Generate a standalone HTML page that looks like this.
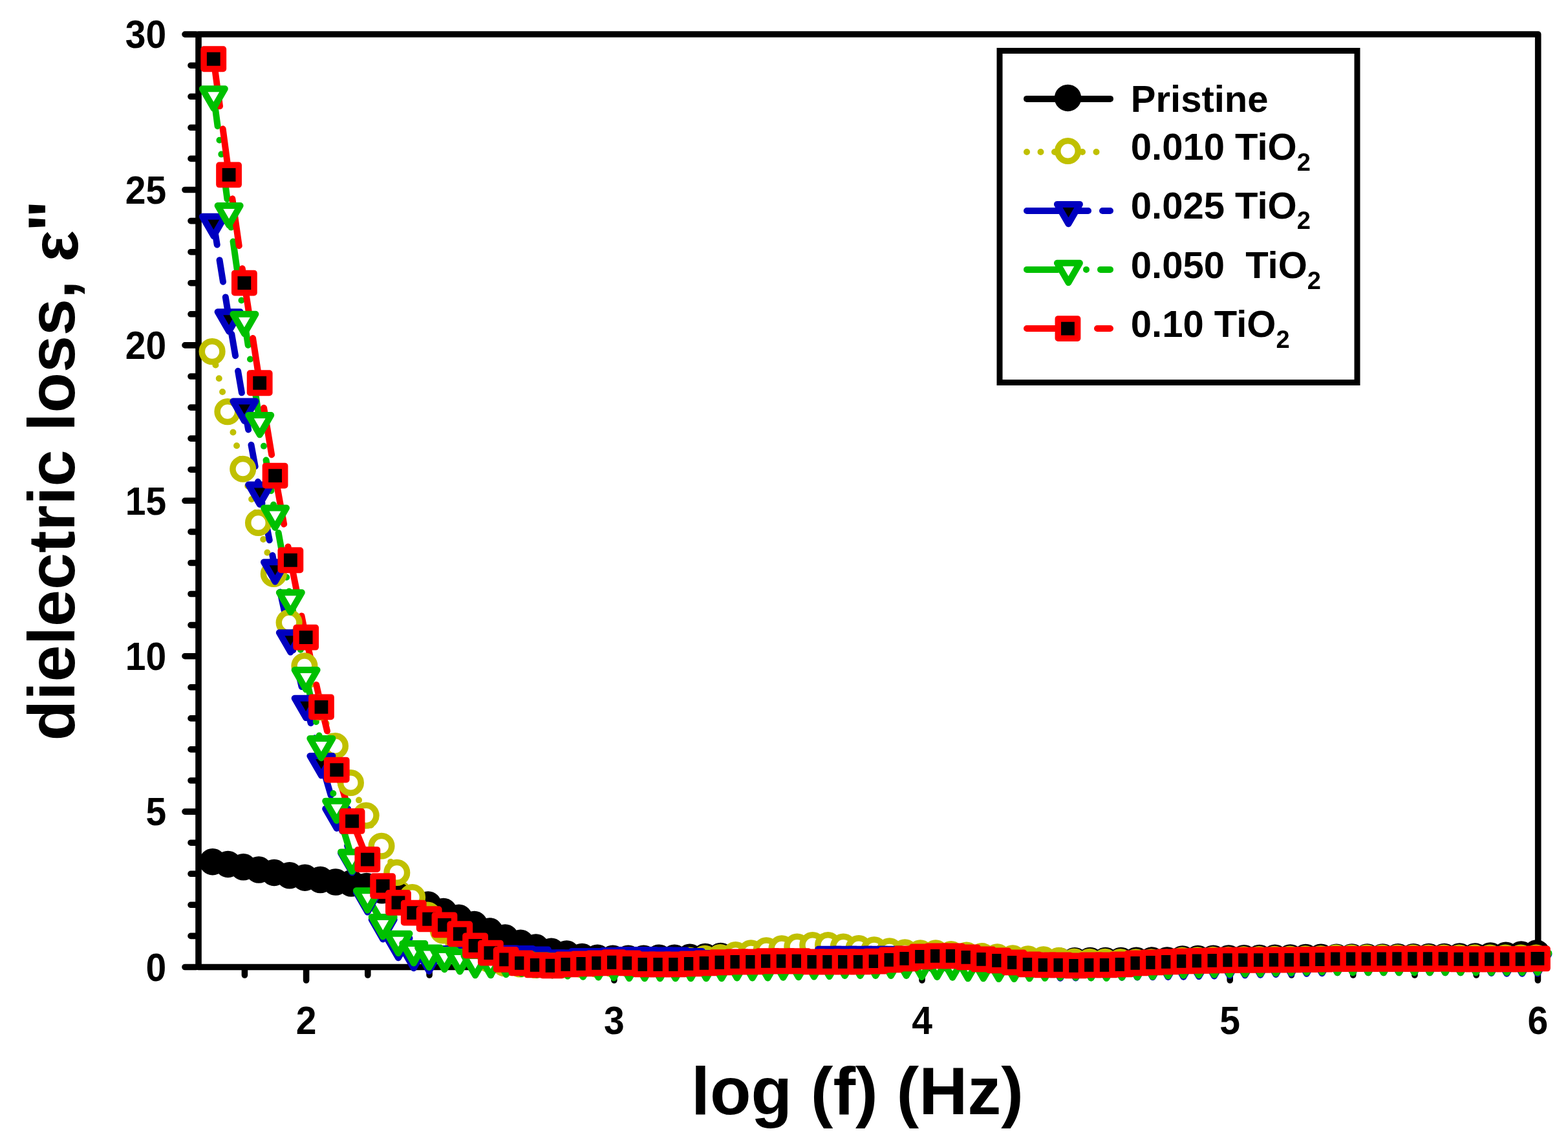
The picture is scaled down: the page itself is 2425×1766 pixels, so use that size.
<!DOCTYPE html>
<html><head><meta charset="utf-8"><title>dielectric loss</title>
<style>
html,body{margin:0;padding:0;background:#fff;}
body{width:2425px;height:1766px;overflow:hidden;}
svg{display:block;font-family:"Liberation Sans",Arial,sans-serif;}
</style></head><body>
<svg width="2425" height="1766" viewBox="0 0 2425 1766">
<rect width="2425" height="1766" fill="#fff"/>
<rect x="307" y="53" width="2071.7" height="1442.5" fill="none" stroke="#000" stroke-width="9.6" stroke-linejoin="round"/>
<path d="M303 1495.5H286M303 1447.4H295M303 1399.3H295M303 1351.3H295M303 1303.2H295M303 1255.1H286M303 1207H295M303 1158.9H295M303 1110.9H295M303 1062.8H295M303 1014.7H286M303 966.6H295M303 918.5H295M303 870.5H295M303 822.4H295M303 774.3H286M303 726.2H295M303 678.1H295M303 630.1H295M303 582H295M303 533.9H286M303 485.8H295M303 437.7H295M303 389.7H295M303 341.6H295M303 293.5H286M303 245.4H295M303 197.3H295M303 149.3H295M303 101.2H295M303 53.1H286M378.4 1499.5V1508M473.6 1499.5V1516M568.8 1499.5V1508M664.1 1499.5V1508M759.3 1499.5V1508M854.6 1499.5V1508M949.8 1499.5V1516M1045 1499.5V1508M1140.3 1499.5V1508M1235.5 1499.5V1508M1330.8 1499.5V1508M1426 1499.5V1516M1521.2 1499.5V1508M1616.5 1499.5V1508M1711.7 1499.5V1508M1807 1499.5V1508M1902.2 1499.5V1516M1997.4 1499.5V1508M2092.7 1499.5V1508M2187.9 1499.5V1508M2283.2 1499.5V1508M2378.4 1499.5V1516" stroke="#000" stroke-width="9.6" stroke-linecap="round" fill="none"/>
<g>
<polyline points="328.8,1332.7 352.6,1336.4 376.4,1340.8 400.2,1345.1 424,1349.4 447.8,1353.8 471.6,1357.2 495.4,1360.6 519.2,1364 543.1,1366 566.9,1370.5 590.7,1376.8 614.5,1385 638.3,1392 662.1,1399 685.9,1409.4 709.7,1419.2 733.5,1429.6 757.3,1440.1 781.2,1449.9 805,1458.2 828.8,1465.1 852.6,1471.2 876.4,1475.1 900.2,1479.4 924,1481.3 947.8,1482.3 971.6,1482.3 995.4,1482.3 1019.3,1481.3 1043.1,1481.3 1066.9,1480.2 1090.7,1479.4 1114.5,1478.6 1138.3,1480 1162.1,1480.3 1185.9,1480.6 1209.7,1480.9 1233.5,1481.2 1257.4,1481.5 1281.2,1481.8 1305,1482.1 1328.8,1482.4 1352.6,1482.7 1376.4,1483 1400.2,1483.2 1424,1483.5 1447.8,1483.8 1471.6,1484 1495.5,1484.2 1519.3,1484.5 1543.1,1484.8 1566.9,1485 1590.7,1485.2 1614.5,1485.5 1638.3,1485.9 1662.1,1485.8 1685.9,1485.6 1709.7,1485.5 1733.6,1485.4 1757.4,1485.3 1781.2,1485.1 1805,1485 1828.8,1482.9 1852.6,1482.6 1876.4,1482.3 1900.2,1482 1924,1481.7 1947.8,1481.5 1971.7,1481.2 1995.5,1480.9 2019.3,1480.6 2043.1,1480.3 2066.9,1480.2 2090.7,1480.1 2114.5,1480 2138.3,1479.9 2162.1,1479.8 2185.9,1479.7 2209.8,1479.6 2233.6,1479.5 2257.4,1479 2281.2,1479 2305,1478 2328.8,1477.3 2352.6,1476 2376.4,1474" fill="none" stroke="#000000" stroke-width="10" stroke-linecap="round" stroke-linejoin="round"/>
<polyline points="328.1,543.6 351.9,636.6 375.7,725.2 399.5,808.4 423.3,887.5 447.1,962.7 470.9,1029.7 494.7,1093.8 518.5,1153.5 542.4,1210.5 566.2,1261.1 590,1308.2 613.8,1349.4 637.6,1387.5 661.4,1415 685.2,1439 709,1459.5 732.8,1474 756.6,1483.5 780.5,1489.7 804.3,1491 828.1,1492.5 851.9,1492.5 875.7,1492.1 899.5,1491.7 923.3,1491.2 947.1,1490.7 970.9,1489.9 994.7,1489 1018.6,1487.6 1042.4,1485.8 1066.2,1485 1090,1482.4 1113.8,1480.6 1137.6,1476.6 1161.4,1473.8 1185.2,1469.9 1209,1466.8 1232.8,1464 1256.7,1461.6 1280.5,1461.6 1304.3,1464 1328.1,1466.6 1351.9,1468.8 1375.7,1470.9 1399.5,1472.8 1423.3,1473.7 1447.1,1473.7 1470.9,1475.6 1494.8,1477 1518.6,1478.6 1542.4,1479.9 1566.2,1481.8 1590,1482.7 1613.8,1483.8 1637.6,1485.4 1661.4,1487 1685.2,1487.2 1709,1487.3 1732.9,1487.5 1756.7,1487.7 1780.5,1487.8 1804.3,1488 1828.1,1485 1851.9,1484.7 1875.7,1484.4 1899.5,1484.2 1923.3,1483.9 1947.1,1483.6 1971,1483.3 1994.8,1483.1 2018.6,1482.8 2042.4,1482.5 2066.2,1481 2090,1481 2113.8,1481 2137.6,1481 2161.4,1481 2185.2,1481 2209.1,1481 2232.9,1481 2256.7,1481 2280.5,1481 2304.3,1481 2328.1,1481 2351.9,1481 2375.7,1481" fill="none" stroke="#c0c000" stroke-width="10" stroke-linecap="round" stroke-linejoin="round" stroke-dasharray="0 21.5"/>
<polyline points="330.3,344.9 354.1,492.4 377.9,630.7 401.7,759.7 425.5,879.4 449.3,988.4 473.1,1089.9 496.9,1179.1 520.7,1260.8 544.6,1329.3 568.4,1390.4 592.2,1432.2 616,1461 639.8,1477 663.6,1481.7 687.4,1477 711.2,1479 735,1479 758.8,1478 782.7,1476.5 806.5,1477 830.3,1478.6 854.1,1483.3 877.9,1483.3 901.7,1481 925.5,1481 949.3,1480 973.1,1479 996.9,1479 1020.8,1479.5 1044.6,1479.5 1068.4,1481 1092.2,1484 1116,1485 1139.8,1485 1163.6,1485 1187.4,1485 1211.2,1485 1235,1485 1258.9,1485 1282.7,1477.9 1306.5,1477.9 1330.3,1477.9 1354.1,1477.9 1377.9,1477.9 1401.7,1479.2 1425.5,1480.5 1449.3,1481.7 1473.1,1483 1497,1484.5 1520.8,1486 1544.6,1487.5 1568.4,1489 1592.2,1490.2 1616,1491.3 1639.8,1492.5 1663.6,1492.2 1687.4,1492 1711.2,1491.8 1735.1,1491.5 1758.9,1491.2 1782.7,1491 1806.5,1490.8 1830.3,1490.5 1854.1,1489.9 1877.9,1489.3 1901.7,1488.7 1925.5,1488.1 1949.3,1487.4 1973.2,1486.8 1997,1486.2 2020.8,1485.6 2044.6,1485 2068.4,1484 2092.2,1484 2116,1484 2139.8,1484 2163.6,1484 2187.4,1484 2211.3,1484 2235.1,1484 2258.9,1484 2282.7,1484 2306.5,1484.8 2330.3,1485.5 2354.1,1485.5 2377.9,1485.5" fill="none" stroke="#0000c0" stroke-width="10" stroke-linecap="round" stroke-linejoin="round" stroke-dasharray="34 24"/>
<polyline points="330.3,147.4 354.1,328.1 377.9,495.9 401.7,652.1 425.5,795.7 449.3,926.4 473.1,1046.1 496.9,1152 520.7,1248.8 544.6,1327.5 568.4,1387.4 592.2,1428.2 616,1453.9 639.8,1469.2 663.6,1475.7 687.4,1479 711.2,1482.2 735,1488.1 758.8,1488 782.7,1486.9 806.5,1485.8 830.3,1487.5 854.1,1488.2 877.9,1489.4 901.7,1490.5 925.5,1491.3 949.3,1492.1 973.1,1492.9 996.9,1493 1020.8,1493 1044.6,1493 1068.4,1493 1092.2,1493 1116,1493 1139.8,1492.3 1163.6,1492.3 1187.4,1492.3 1211.2,1491.5 1235,1491 1258.9,1490.4 1282.7,1489.9 1306.5,1488.8 1330.3,1488.8 1354.1,1488.8 1377.9,1488.8 1401.7,1488.8 1425.5,1490.7 1449.3,1490.7 1473.1,1491.5 1497,1493.1 1520.8,1493.1 1544.6,1493.9 1568.4,1493.9 1592.2,1493.1 1616,1492.6 1639.8,1491.5 1663.6,1491.5 1687.4,1492.3 1711.2,1492.6 1735.1,1491.5 1758.9,1491 1782.7,1490.4 1806.5,1489.4 1830.3,1488.5 1854.1,1488 1877.9,1487.5 1901.7,1487 1925.5,1486.5 1949.3,1486 1973.2,1485.3 1997,1484.6 2020.8,1483.9 2044.6,1483.2 2068.4,1484 2092.2,1484 2116,1484 2139.8,1484 2163.6,1484 2187.4,1484 2211.3,1484 2235.1,1484 2258.9,1484 2282.7,1484 2306.5,1484 2330.3,1484 2354.1,1484 2377.9,1484" fill="none" stroke="#00c000" stroke-width="10" stroke-linecap="round" stroke-linejoin="round" stroke-dasharray="48 22 0 22 0 22"/>
<polyline points="330.3,91.3 354.1,270.5 377.9,437.5 401.7,592.3 425.5,735.5 449.3,866.2 473.1,985.6 496.9,1093.4 520.7,1190.6 544.6,1270 568.4,1329.1 592.2,1370.2 616,1395.9 639.8,1411.6 663.6,1421.3 687.4,1430.4 711.2,1444.3 735,1462.4 758.8,1473.6 782.7,1484 806.5,1489.5 830.3,1492.5 854.1,1493.3 877.9,1491.4 901.7,1490.5 925.5,1489.4 949.3,1488.3 973.1,1489.4 996.9,1491.4 1020.8,1491.4 1044.6,1491.4 1068.4,1490.5 1092.2,1489.4 1116,1488.3 1139.8,1487.5 1163.6,1487.5 1187.4,1486.3 1211.2,1486.3 1235,1486.3 1258.9,1487.5 1282.7,1487.5 1306.5,1487.4 1330.3,1487.4 1354.1,1486.6 1377.9,1484.4 1401.7,1482.4 1425.5,1479.5 1449.3,1478.4 1473.1,1478.4 1497,1480.4 1520.8,1483.5 1544.6,1485.5 1568.4,1488.4 1592.2,1491.4 1616,1492.4 1639.8,1492.4 1663.6,1493.5 1687.4,1492.4 1711.2,1492.4 1735.1,1491.4 1758.9,1489.5 1782.7,1488.4 1806.5,1487.5 1830.3,1486.5 1854.1,1486 1877.9,1485.5 1901.7,1484.8 1925.5,1484.7 1949.3,1484.6 1973.2,1484.5 1997,1484.4 2020.8,1484 2044.6,1483.6 2068.4,1482.9 2092.2,1482.9 2116,1482.8 2139.8,1482.8 2163.6,1482.8 2187.4,1482.8 2211.3,1482.7 2235.1,1482.7 2258.9,1483.3 2282.7,1483.3 2306.5,1483.3 2330.3,1483.3 2354.1,1483.3 2377.9,1482.5" fill="none" stroke="#ff0000" stroke-width="10" stroke-linecap="round" stroke-linejoin="round" stroke-dasharray="73.5 35.5"/>
<g fill="#000" stroke="#000" stroke-width="9.5"><circle cx="328.8" cy="1332.7" r="16"/><circle cx="352.6" cy="1336.4" r="16"/><circle cx="376.4" cy="1340.8" r="16"/><circle cx="400.2" cy="1345.1" r="16"/><circle cx="424" cy="1349.4" r="16"/><circle cx="447.8" cy="1353.8" r="16"/><circle cx="471.6" cy="1357.2" r="16"/><circle cx="495.4" cy="1360.6" r="16"/><circle cx="519.2" cy="1364" r="16"/><circle cx="543.1" cy="1366" r="16"/><circle cx="566.9" cy="1370.5" r="16"/><circle cx="590.7" cy="1376.8" r="16"/><circle cx="614.5" cy="1385" r="16"/><circle cx="638.3" cy="1392" r="16"/><circle cx="662.1" cy="1399" r="16"/><circle cx="685.9" cy="1409.4" r="16"/><circle cx="709.7" cy="1419.2" r="16"/><circle cx="733.5" cy="1429.6" r="16"/><circle cx="757.3" cy="1440.1" r="16"/><circle cx="781.2" cy="1449.9" r="16"/><circle cx="805" cy="1458.2" r="16"/><circle cx="828.8" cy="1465.1" r="16"/><circle cx="852.6" cy="1471.2" r="16"/><circle cx="876.4" cy="1475.1" r="16"/><circle cx="900.2" cy="1479.4" r="16"/><circle cx="924" cy="1481.3" r="16"/><circle cx="947.8" cy="1482.3" r="16"/><circle cx="971.6" cy="1482.3" r="16"/><circle cx="995.4" cy="1482.3" r="16"/><circle cx="1019.3" cy="1481.3" r="16"/><circle cx="1043.1" cy="1481.3" r="16"/><circle cx="1066.9" cy="1480.2" r="16"/><circle cx="1090.7" cy="1479.4" r="16"/><circle cx="1114.5" cy="1478.6" r="16"/><circle cx="1138.3" cy="1480" r="16"/><circle cx="1162.1" cy="1480.3" r="16"/><circle cx="1185.9" cy="1480.6" r="16"/><circle cx="1209.7" cy="1480.9" r="16"/><circle cx="1233.5" cy="1481.2" r="16"/><circle cx="1257.4" cy="1481.5" r="16"/><circle cx="1281.2" cy="1481.8" r="16"/><circle cx="1305" cy="1482.1" r="16"/><circle cx="1328.8" cy="1482.4" r="16"/><circle cx="1352.6" cy="1482.7" r="16"/><circle cx="1376.4" cy="1483" r="16"/><circle cx="1400.2" cy="1483.2" r="16"/><circle cx="1424" cy="1483.5" r="16"/><circle cx="1447.8" cy="1483.8" r="16"/><circle cx="1471.6" cy="1484" r="16"/><circle cx="1495.5" cy="1484.2" r="16"/><circle cx="1519.3" cy="1484.5" r="16"/><circle cx="1543.1" cy="1484.8" r="16"/><circle cx="1566.9" cy="1485" r="16"/><circle cx="1590.7" cy="1485.2" r="16"/><circle cx="1614.5" cy="1485.5" r="16"/><circle cx="1638.3" cy="1485.9" r="16"/><circle cx="1662.1" cy="1485.8" r="16"/><circle cx="1685.9" cy="1485.6" r="16"/><circle cx="1709.7" cy="1485.5" r="16"/><circle cx="1733.6" cy="1485.4" r="16"/><circle cx="1757.4" cy="1485.3" r="16"/><circle cx="1781.2" cy="1485.1" r="16"/><circle cx="1805" cy="1485" r="16"/><circle cx="1828.8" cy="1482.9" r="16"/><circle cx="1852.6" cy="1482.6" r="16"/><circle cx="1876.4" cy="1482.3" r="16"/><circle cx="1900.2" cy="1482" r="16"/><circle cx="1924" cy="1481.7" r="16"/><circle cx="1947.8" cy="1481.5" r="16"/><circle cx="1971.7" cy="1481.2" r="16"/><circle cx="1995.5" cy="1480.9" r="16"/><circle cx="2019.3" cy="1480.6" r="16"/><circle cx="2043.1" cy="1480.3" r="16"/><circle cx="2066.9" cy="1480.2" r="16"/><circle cx="2090.7" cy="1480.1" r="16"/><circle cx="2114.5" cy="1480" r="16"/><circle cx="2138.3" cy="1479.9" r="16"/><circle cx="2162.1" cy="1479.8" r="16"/><circle cx="2185.9" cy="1479.7" r="16"/><circle cx="2209.8" cy="1479.6" r="16"/><circle cx="2233.6" cy="1479.5" r="16"/><circle cx="2257.4" cy="1479" r="16"/><circle cx="2281.2" cy="1479" r="16"/><circle cx="2305" cy="1478" r="16"/><circle cx="2328.8" cy="1477.3" r="16"/><circle cx="2352.6" cy="1476" r="16"/><circle cx="2376.4" cy="1474" r="16"/></g>
<g fill="#fff" stroke="#c0c000" stroke-width="9.5"><circle cx="328.1" cy="543.6" r="15.8"/><circle cx="351.9" cy="636.6" r="15.8"/><circle cx="375.7" cy="725.2" r="15.8"/><circle cx="399.5" cy="808.4" r="15.8"/><circle cx="423.3" cy="887.5" r="15.8"/><circle cx="447.1" cy="962.7" r="15.8"/><circle cx="470.9" cy="1029.7" r="15.8"/><circle cx="494.7" cy="1093.8" r="15.8"/><circle cx="518.5" cy="1153.5" r="15.8"/><circle cx="542.4" cy="1210.5" r="15.8"/><circle cx="566.2" cy="1261.1" r="15.8"/><circle cx="590" cy="1308.2" r="15.8"/><circle cx="613.8" cy="1349.4" r="15.8"/><circle cx="637.6" cy="1387.5" r="15.8"/><circle cx="661.4" cy="1415" r="15.8"/><circle cx="685.2" cy="1439" r="15.8"/><circle cx="709" cy="1459.5" r="15.8"/><circle cx="732.8" cy="1474" r="15.8"/><circle cx="756.6" cy="1483.5" r="15.8"/><circle cx="780.5" cy="1489.7" r="15.8"/><circle cx="804.3" cy="1491" r="15.8"/><circle cx="828.1" cy="1492.5" r="15.8"/><circle cx="851.9" cy="1492.5" r="15.8"/><circle cx="875.7" cy="1492.1" r="15.8"/><circle cx="899.5" cy="1491.7" r="15.8"/><circle cx="923.3" cy="1491.2" r="15.8"/><circle cx="947.1" cy="1490.7" r="15.8"/><circle cx="970.9" cy="1489.9" r="15.8"/><circle cx="994.7" cy="1489" r="15.8"/><circle cx="1018.6" cy="1487.6" r="15.8"/><circle cx="1042.4" cy="1485.8" r="15.8"/><circle cx="1066.2" cy="1485" r="15.8"/><circle cx="1090" cy="1482.4" r="15.8"/><circle cx="1113.8" cy="1480.6" r="15.8"/><circle cx="1137.6" cy="1476.6" r="15.8"/><circle cx="1161.4" cy="1473.8" r="15.8"/><circle cx="1185.2" cy="1469.9" r="15.8"/><circle cx="1209" cy="1466.8" r="15.8"/><circle cx="1232.8" cy="1464" r="15.8"/><circle cx="1256.7" cy="1461.6" r="15.8"/><circle cx="1280.5" cy="1461.6" r="15.8"/><circle cx="1304.3" cy="1464" r="15.8"/><circle cx="1328.1" cy="1466.6" r="15.8"/><circle cx="1351.9" cy="1468.8" r="15.8"/><circle cx="1375.7" cy="1470.9" r="15.8"/><circle cx="1399.5" cy="1472.8" r="15.8"/><circle cx="1423.3" cy="1473.7" r="15.8"/><circle cx="1447.1" cy="1473.7" r="15.8"/><circle cx="1470.9" cy="1475.6" r="15.8"/><circle cx="1494.8" cy="1477" r="15.8"/><circle cx="1518.6" cy="1478.6" r="15.8"/><circle cx="1542.4" cy="1479.9" r="15.8"/><circle cx="1566.2" cy="1481.8" r="15.8"/><circle cx="1590" cy="1482.7" r="15.8"/><circle cx="1613.8" cy="1483.8" r="15.8"/><circle cx="1637.6" cy="1485.4" r="15.8"/><circle cx="1661.4" cy="1487" r="15.8"/><circle cx="1685.2" cy="1487.2" r="15.8"/><circle cx="1709" cy="1487.3" r="15.8"/><circle cx="1732.9" cy="1487.5" r="15.8"/><circle cx="1756.7" cy="1487.7" r="15.8"/><circle cx="1780.5" cy="1487.8" r="15.8"/><circle cx="1804.3" cy="1488" r="15.8"/><circle cx="1828.1" cy="1485" r="15.8"/><circle cx="1851.9" cy="1484.7" r="15.8"/><circle cx="1875.7" cy="1484.4" r="15.8"/><circle cx="1899.5" cy="1484.2" r="15.8"/><circle cx="1923.3" cy="1483.9" r="15.8"/><circle cx="1947.1" cy="1483.6" r="15.8"/><circle cx="1971" cy="1483.3" r="15.8"/><circle cx="1994.8" cy="1483.1" r="15.8"/><circle cx="2018.6" cy="1482.8" r="15.8"/><circle cx="2042.4" cy="1482.5" r="15.8"/><circle cx="2066.2" cy="1481" r="15.8"/><circle cx="2090" cy="1481" r="15.8"/><circle cx="2113.8" cy="1481" r="15.8"/><circle cx="2137.6" cy="1481" r="15.8"/><circle cx="2161.4" cy="1481" r="15.8"/><circle cx="2185.2" cy="1481" r="15.8"/><circle cx="2209.1" cy="1481" r="15.8"/><circle cx="2232.9" cy="1481" r="15.8"/><circle cx="2256.7" cy="1481" r="15.8"/><circle cx="2280.5" cy="1481" r="15.8"/><circle cx="2304.3" cy="1481" r="15.8"/><circle cx="2328.1" cy="1481" r="15.8"/><circle cx="2351.9" cy="1481" r="15.8"/><circle cx="2375.7" cy="1481" r="15.8"/></g>
<g fill="#000" stroke="#0000c0" stroke-width="10" stroke-linejoin="round"><path d="M312.8 334.8H347.8L330.3 365.1Z"/><path d="M336.6 482.3H371.6L354.1 512.6Z"/><path d="M360.4 620.6H395.4L377.9 650.9Z"/><path d="M384.2 749.6H419.2L401.7 779.9Z"/><path d="M408 869.3H443L425.5 899.6Z"/><path d="M431.8 978.3H466.8L449.3 1008.6Z"/><path d="M455.6 1079.8H490.6L473.1 1110.1Z"/><path d="M479.4 1169H514.4L496.9 1199.3Z"/><path d="M503.2 1250.7H538.2L520.7 1281Z"/><path d="M527.1 1319.2H562.1L544.6 1349.5Z"/><path d="M550.9 1380.3H585.9L568.4 1410.6Z"/><path d="M574.7 1422.1H609.7L592.2 1452.4Z"/><path d="M598.5 1450.9H633.5L616 1481.2Z"/><path d="M622.3 1466.9H657.3L639.8 1497.2Z"/><path d="M646.1 1471.6H681.1L663.6 1501.9Z"/><path d="M669.9 1466.9H704.9L687.4 1497.2Z"/><path d="M693.7 1468.9H728.7L711.2 1499.2Z"/><path d="M717.5 1468.9H752.5L735 1499.2Z"/><path d="M741.3 1467.9H776.3L758.8 1498.2Z"/><path d="M765.2 1466.4H800.2L782.7 1496.7Z"/><path d="M789 1466.9H824L806.5 1497.2Z"/><path d="M812.8 1468.5H847.8L830.3 1498.8Z"/><path d="M836.6 1473.2H871.6L854.1 1503.5Z"/><path d="M860.4 1473.2H895.4L877.9 1503.5Z"/><path d="M884.2 1470.9H919.2L901.7 1501.2Z"/><path d="M908 1470.9H943L925.5 1501.2Z"/><path d="M931.8 1469.9H966.8L949.3 1500.2Z"/><path d="M955.6 1468.9H990.6L973.1 1499.2Z"/><path d="M979.4 1468.9H1014.4L996.9 1499.2Z"/><path d="M1003.3 1469.4H1038.3L1020.8 1499.7Z"/><path d="M1027.1 1469.4H1062.1L1044.6 1499.7Z"/><path d="M1050.9 1470.9H1085.9L1068.4 1501.2Z"/><path d="M1074.7 1473.9H1109.7L1092.2 1504.2Z"/><path d="M1098.5 1474.9H1133.5L1116 1505.2Z"/><path d="M1122.3 1474.9H1157.3L1139.8 1505.2Z"/><path d="M1146.1 1474.9H1181.1L1163.6 1505.2Z"/><path d="M1169.9 1474.9H1204.9L1187.4 1505.2Z"/><path d="M1193.7 1474.9H1228.7L1211.2 1505.2Z"/><path d="M1217.5 1474.9H1252.5L1235 1505.2Z"/><path d="M1241.4 1474.9H1276.4L1258.9 1505.2Z"/><path d="M1265.2 1467.8H1300.2L1282.7 1498.1Z"/><path d="M1289 1467.8H1324L1306.5 1498.1Z"/><path d="M1312.8 1467.8H1347.8L1330.3 1498.1Z"/><path d="M1336.6 1467.8H1371.6L1354.1 1498.1Z"/><path d="M1360.4 1467.8H1395.4L1377.9 1498.1Z"/><path d="M1384.2 1469.1H1419.2L1401.7 1499.4Z"/><path d="M1408 1470.3H1443L1425.5 1500.7Z"/><path d="M1431.8 1471.6H1466.8L1449.3 1501.9Z"/><path d="M1455.6 1472.9H1490.6L1473.1 1503.2Z"/><path d="M1479.5 1474.4H1514.5L1497 1504.7Z"/><path d="M1503.3 1475.9H1538.3L1520.8 1506.2Z"/><path d="M1527.1 1477.4H1562.1L1544.6 1507.7Z"/><path d="M1550.9 1478.9H1585.9L1568.4 1509.2Z"/><path d="M1574.7 1480.1H1609.7L1592.2 1510.4Z"/><path d="M1598.5 1481.2H1633.5L1616 1511.5Z"/><path d="M1622.3 1482.4H1657.3L1639.8 1512.7Z"/><path d="M1646.1 1482.1H1681.1L1663.6 1512.5Z"/><path d="M1669.9 1481.9H1704.9L1687.4 1512.2Z"/><path d="M1693.7 1481.6H1728.7L1711.2 1512Z"/><path d="M1717.6 1481.4H1752.6L1735.1 1511.7Z"/><path d="M1741.4 1481.1H1776.4L1758.9 1511.5Z"/><path d="M1765.2 1480.9H1800.2L1782.7 1511.2Z"/><path d="M1789 1480.6H1824L1806.5 1511Z"/><path d="M1812.8 1480.4H1847.8L1830.3 1510.7Z"/><path d="M1836.6 1479.8H1871.6L1854.1 1510.1Z"/><path d="M1860.4 1479.2H1895.4L1877.9 1509.5Z"/><path d="M1884.2 1478.6H1919.2L1901.7 1508.9Z"/><path d="M1908 1478H1943L1925.5 1508.3Z"/><path d="M1931.8 1477.3H1966.8L1949.3 1507.7Z"/><path d="M1955.7 1476.7H1990.7L1973.2 1507Z"/><path d="M1979.5 1476.1H2014.5L1997 1506.4Z"/><path d="M2003.3 1475.5H2038.3L2020.8 1505.8Z"/><path d="M2027.1 1474.9H2062.1L2044.6 1505.2Z"/><path d="M2050.9 1473.9H2085.9L2068.4 1504.2Z"/><path d="M2074.7 1473.9H2109.7L2092.2 1504.2Z"/><path d="M2098.5 1473.9H2133.5L2116 1504.2Z"/><path d="M2122.3 1473.9H2157.3L2139.8 1504.2Z"/><path d="M2146.1 1473.9H2181.1L2163.6 1504.2Z"/><path d="M2169.9 1473.9H2204.9L2187.4 1504.2Z"/><path d="M2193.8 1473.9H2228.8L2211.3 1504.2Z"/><path d="M2217.6 1473.9H2252.6L2235.1 1504.2Z"/><path d="M2241.4 1473.9H2276.4L2258.9 1504.2Z"/><path d="M2265.2 1473.9H2300.2L2282.7 1504.2Z"/><path d="M2289 1474.6H2324L2306.5 1505Z"/><path d="M2312.8 1475.4H2347.8L2330.3 1505.7Z"/><path d="M2336.6 1475.4H2371.6L2354.1 1505.7Z"/><path d="M2360.4 1475.4H2395.4L2377.9 1505.7Z"/></g>
<g fill="#fff" stroke="#00c000" stroke-width="10" stroke-linejoin="round"><path d="M312.8 137.3H347.8L330.3 167.6Z"/><path d="M336.6 318H371.6L354.1 348.3Z"/><path d="M360.4 485.8H395.4L377.9 516.1Z"/><path d="M384.2 642H419.2L401.7 672.3Z"/><path d="M408 785.6H443L425.5 815.9Z"/><path d="M431.8 916.3H466.8L449.3 946.6Z"/><path d="M455.6 1036H490.6L473.1 1066.3Z"/><path d="M479.4 1141.9H514.4L496.9 1172.2Z"/><path d="M503.2 1238.7H538.2L520.7 1269Z"/><path d="M527.1 1317.4H562.1L544.6 1347.7Z"/><path d="M550.9 1377.3H585.9L568.4 1407.6Z"/><path d="M574.7 1418.1H609.7L592.2 1448.4Z"/><path d="M598.5 1443.8H633.5L616 1474.1Z"/><path d="M622.3 1459.1H657.3L639.8 1489.4Z"/><path d="M646.1 1465.6H681.1L663.6 1495.9Z"/><path d="M669.9 1468.9H704.9L687.4 1499.2Z"/><path d="M693.7 1472.1H728.7L711.2 1502.4Z"/><path d="M717.5 1478H752.5L735 1508.3Z"/><path d="M741.3 1477.9H776.3L758.8 1508.2Z"/><path d="M765.2 1476.8H800.2L782.7 1507.1Z"/><path d="M789 1475.7H824L806.5 1506Z"/><path d="M812.8 1477.4H847.8L830.3 1507.7Z"/><path d="M836.6 1478.1H871.6L854.1 1508.4Z"/><path d="M860.4 1479.3H895.4L877.9 1509.6Z"/><path d="M884.2 1480.4H919.2L901.7 1510.7Z"/><path d="M908 1481.2H943L925.5 1511.5Z"/><path d="M931.8 1482H966.8L949.3 1512.3Z"/><path d="M955.6 1482.8H990.6L973.1 1513.1Z"/><path d="M979.4 1482.9H1014.4L996.9 1513.2Z"/><path d="M1003.3 1482.9H1038.3L1020.8 1513.2Z"/><path d="M1027.1 1482.9H1062.1L1044.6 1513.2Z"/><path d="M1050.9 1482.9H1085.9L1068.4 1513.2Z"/><path d="M1074.7 1482.9H1109.7L1092.2 1513.2Z"/><path d="M1098.5 1482.9H1133.5L1116 1513.2Z"/><path d="M1122.3 1482.2H1157.3L1139.8 1512.5Z"/><path d="M1146.1 1482.2H1181.1L1163.6 1512.5Z"/><path d="M1169.9 1482.2H1204.9L1187.4 1512.5Z"/><path d="M1193.7 1481.4H1228.7L1211.2 1511.7Z"/><path d="M1217.5 1480.9H1252.5L1235 1511.2Z"/><path d="M1241.4 1480.3H1276.4L1258.9 1510.6Z"/><path d="M1265.2 1479.8H1300.2L1282.7 1510.1Z"/><path d="M1289 1478.7H1324L1306.5 1509Z"/><path d="M1312.8 1478.7H1347.8L1330.3 1509Z"/><path d="M1336.6 1478.7H1371.6L1354.1 1509Z"/><path d="M1360.4 1478.7H1395.4L1377.9 1509Z"/><path d="M1384.2 1478.7H1419.2L1401.7 1509Z"/><path d="M1408 1480.6H1443L1425.5 1510.9Z"/><path d="M1431.8 1480.6H1466.8L1449.3 1510.9Z"/><path d="M1455.6 1481.4H1490.6L1473.1 1511.7Z"/><path d="M1479.5 1483H1514.5L1497 1513.3Z"/><path d="M1503.3 1483H1538.3L1520.8 1513.3Z"/><path d="M1527.1 1483.8H1562.1L1544.6 1514.1Z"/><path d="M1550.9 1483.8H1585.9L1568.4 1514.1Z"/><path d="M1574.7 1483H1609.7L1592.2 1513.3Z"/><path d="M1598.5 1482.5H1633.5L1616 1512.8Z"/><path d="M1622.3 1481.4H1657.3L1639.8 1511.7Z"/><path d="M1646.1 1481.4H1681.1L1663.6 1511.7Z"/><path d="M1669.9 1482.2H1704.9L1687.4 1512.5Z"/><path d="M1693.7 1482.5H1728.7L1711.2 1512.8Z"/><path d="M1717.6 1481.4H1752.6L1735.1 1511.7Z"/><path d="M1741.4 1480.9H1776.4L1758.9 1511.2Z"/><path d="M1765.2 1480.3H1800.2L1782.7 1510.6Z"/><path d="M1789 1479.3H1824L1806.5 1509.6Z"/><path d="M1812.8 1478.4H1847.8L1830.3 1508.7Z"/><path d="M1836.6 1477.9H1871.6L1854.1 1508.2Z"/><path d="M1860.4 1477.4H1895.4L1877.9 1507.7Z"/><path d="M1884.2 1476.9H1919.2L1901.7 1507.2Z"/><path d="M1908 1476.4H1943L1925.5 1506.7Z"/><path d="M1931.8 1475.9H1966.8L1949.3 1506.2Z"/><path d="M1955.7 1475.2H1990.7L1973.2 1505.5Z"/><path d="M1979.5 1474.5H2014.5L1997 1504.8Z"/><path d="M2003.3 1473.8H2038.3L2020.8 1504.1Z"/><path d="M2027.1 1473.1H2062.1L2044.6 1503.4Z"/><path d="M2050.9 1473.9H2085.9L2068.4 1504.2Z"/><path d="M2074.7 1473.9H2109.7L2092.2 1504.2Z"/><path d="M2098.5 1473.9H2133.5L2116 1504.2Z"/><path d="M2122.3 1473.9H2157.3L2139.8 1504.2Z"/><path d="M2146.1 1473.9H2181.1L2163.6 1504.2Z"/><path d="M2169.9 1473.9H2204.9L2187.4 1504.2Z"/><path d="M2193.8 1473.9H2228.8L2211.3 1504.2Z"/><path d="M2217.6 1473.9H2252.6L2235.1 1504.2Z"/><path d="M2241.4 1473.9H2276.4L2258.9 1504.2Z"/><path d="M2265.2 1473.9H2300.2L2282.7 1504.2Z"/><path d="M2289 1473.9H2324L2306.5 1504.2Z"/><path d="M2312.8 1473.9H2347.8L2330.3 1504.2Z"/><path d="M2336.6 1473.9H2371.6L2354.1 1504.2Z"/><path d="M2360.4 1473.9H2395.4L2377.9 1504.2Z"/></g>
<g fill="#000" stroke="#ff0000" stroke-width="9.5" stroke-linejoin="round"><path d="M315.1 76.1h30.3v30.3h-30.3Z"/><path d="M338.9 255.3h30.3v30.3h-30.3Z"/><path d="M362.7 422.4h30.3v30.3h-30.3Z"/><path d="M386.5 577.1h30.3v30.3h-30.3Z"/><path d="M410.4 720.4h30.3v30.3h-30.3Z"/><path d="M434.2 851.1h30.3v30.3h-30.3Z"/><path d="M458 970.5h30.3v30.3h-30.3Z"/><path d="M481.8 1078.2h30.3v30.3h-30.3Z"/><path d="M505.6 1175.4h30.3v30.3h-30.3Z"/><path d="M529.4 1254.8h30.3v30.3h-30.3Z"/><path d="M553.2 1313.9h30.3v30.3h-30.3Z"/><path d="M577 1355h30.3v30.3h-30.3Z"/><path d="M600.8 1380.8h30.3v30.3h-30.3Z"/><path d="M624.6 1396.4h30.3v30.3h-30.3Z"/><path d="M648.5 1406.1h30.3v30.3h-30.3Z"/><path d="M672.3 1415.2h30.3v30.3h-30.3Z"/><path d="M696.1 1429.1h30.3v30.3h-30.3Z"/><path d="M719.9 1447.2h30.3v30.3h-30.3Z"/><path d="M743.7 1458.4h30.3v30.3h-30.3Z"/><path d="M767.5 1468.8h30.3v30.3h-30.3Z"/><path d="M791.3 1474.3h30.3v30.3h-30.3Z"/><path d="M815.1 1477.3h30.3v30.3h-30.3Z"/><path d="M838.9 1478.1h30.3v30.3h-30.3Z"/><path d="M862.7 1476.2h30.3v30.3h-30.3Z"/><path d="M886.6 1475.3h30.3v30.3h-30.3Z"/><path d="M910.4 1474.2h30.3v30.3h-30.3Z"/><path d="M934.2 1473.1h30.3v30.3h-30.3Z"/><path d="M958 1474.2h30.3v30.3h-30.3Z"/><path d="M981.8 1476.2h30.3v30.3h-30.3Z"/><path d="M1005.6 1476.2h30.3v30.3h-30.3Z"/><path d="M1029.4 1476.2h30.3v30.3h-30.3Z"/><path d="M1053.2 1475.3h30.3v30.3h-30.3Z"/><path d="M1077 1474.2h30.3v30.3h-30.3Z"/><path d="M1100.8 1473.1h30.3v30.3h-30.3Z"/><path d="M1124.7 1472.3h30.3v30.3h-30.3Z"/><path d="M1148.5 1472.3h30.3v30.3h-30.3Z"/><path d="M1172.3 1471.1h30.3v30.3h-30.3Z"/><path d="M1196.1 1471.1h30.3v30.3h-30.3Z"/><path d="M1219.9 1471.1h30.3v30.3h-30.3Z"/><path d="M1243.7 1472.3h30.3v30.3h-30.3Z"/><path d="M1267.5 1472.3h30.3v30.3h-30.3Z"/><path d="M1291.3 1472.2h30.3v30.3h-30.3Z"/><path d="M1315.1 1472.2h30.3v30.3h-30.3Z"/><path d="M1338.9 1471.4h30.3v30.3h-30.3Z"/><path d="M1362.8 1469.2h30.3v30.3h-30.3Z"/><path d="M1386.6 1467.2h30.3v30.3h-30.3Z"/><path d="M1410.4 1464.3h30.3v30.3h-30.3Z"/><path d="M1434.2 1463.2h30.3v30.3h-30.3Z"/><path d="M1458 1463.2h30.3v30.3h-30.3Z"/><path d="M1481.8 1465.2h30.3v30.3h-30.3Z"/><path d="M1505.6 1468.3h30.3v30.3h-30.3Z"/><path d="M1529.4 1470.3h30.3v30.3h-30.3Z"/><path d="M1553.2 1473.2h30.3v30.3h-30.3Z"/><path d="M1577 1476.2h30.3v30.3h-30.3Z"/><path d="M1600.9 1477.2h30.3v30.3h-30.3Z"/><path d="M1624.7 1477.2h30.3v30.3h-30.3Z"/><path d="M1648.5 1478.3h30.3v30.3h-30.3Z"/><path d="M1672.3 1477.2h30.3v30.3h-30.3Z"/><path d="M1696.1 1477.2h30.3v30.3h-30.3Z"/><path d="M1719.9 1476.2h30.3v30.3h-30.3Z"/><path d="M1743.7 1474.3h30.3v30.3h-30.3Z"/><path d="M1767.5 1473.2h30.3v30.3h-30.3Z"/><path d="M1791.3 1472.3h30.3v30.3h-30.3Z"/><path d="M1815.1 1471.3h30.3v30.3h-30.3Z"/><path d="M1839 1470.8h30.3v30.3h-30.3Z"/><path d="M1862.8 1470.3h30.3v30.3h-30.3Z"/><path d="M1886.6 1469.6h30.3v30.3h-30.3Z"/><path d="M1910.4 1469.5h30.3v30.3h-30.3Z"/><path d="M1934.2 1469.4h30.3v30.3h-30.3Z"/><path d="M1958 1469.3h30.3v30.3h-30.3Z"/><path d="M1981.8 1469.2h30.3v30.3h-30.3Z"/><path d="M2005.6 1468.8h30.3v30.3h-30.3Z"/><path d="M2029.4 1468.4h30.3v30.3h-30.3Z"/><path d="M2053.2 1467.8h30.3v30.3h-30.3Z"/><path d="M2077.1 1467.7h30.3v30.3h-30.3Z"/><path d="M2100.9 1467.7h30.3v30.3h-30.3Z"/><path d="M2124.7 1467.7h30.3v30.3h-30.3Z"/><path d="M2148.5 1467.6h30.3v30.3h-30.3Z"/><path d="M2172.3 1467.6h30.3v30.3h-30.3Z"/><path d="M2196.1 1467.6h30.3v30.3h-30.3Z"/><path d="M2219.9 1467.5h30.3v30.3h-30.3Z"/><path d="M2243.7 1468.1h30.3v30.3h-30.3Z"/><path d="M2267.5 1468.1h30.3v30.3h-30.3Z"/><path d="M2291.3 1468.1h30.3v30.3h-30.3Z"/><path d="M2315.2 1468.1h30.3v30.3h-30.3Z"/><path d="M2339 1468.1h30.3v30.3h-30.3Z"/><path d="M2362.8 1467.3h30.3v30.3h-30.3Z"/></g>
</g>
<g font-size="61" font-weight="bold"><text transform="translate(257.3 1516.8) scale(0.935 1)" text-anchor="end">0</text><text transform="translate(257.3 1276.4) scale(0.935 1)" text-anchor="end">5</text><text transform="translate(257.3 1036) scale(0.935 1)" text-anchor="end">10</text><text transform="translate(257.3 795.6) scale(0.935 1)" text-anchor="end">15</text><text transform="translate(257.3 555.2) scale(0.935 1)" text-anchor="end">20</text><text transform="translate(257.3 314.8) scale(0.935 1)" text-anchor="end">25</text><text transform="translate(257.3 74.4) scale(0.935 1)" text-anchor="end">30</text><text transform="translate(473.6 1598.5) scale(0.935 1)" text-anchor="middle">2</text><text transform="translate(949.8 1598.5) scale(0.935 1)" text-anchor="middle">3</text><text transform="translate(1426 1598.5) scale(0.935 1)" text-anchor="middle">4</text><text transform="translate(1902.2 1598.5) scale(0.935 1)" text-anchor="middle">5</text><text transform="translate(2378.4 1598.5) scale(0.935 1)" text-anchor="middle">6</text></g>
<text x="1326" y="1723" text-anchor="middle" font-size="104" font-weight="bold">log (f) (Hz)</text>
<text transform="translate(115 1145.6) rotate(-90)" font-size="102.5" font-weight="bold">dielectric loss, <tspan dy="4.5">&#949;</tspan><tspan dx="-2" dy="-4.5">"</tspan></text>
<rect x="1546" y="78.5" width="553" height="513" fill="#fff" stroke="#000" stroke-width="9"/>
<path d="M1588 152.9H1717" stroke="#000" stroke-width="10" stroke-linecap="round"/>
<circle cx="1651.5" cy="151.4" r="16" fill="#000" stroke="#000" stroke-width="9.5"/>
<path d="M1588 235H1700" stroke="#c0c000" stroke-width="10" stroke-linecap="round" stroke-dasharray="0 21.5"/>
<circle cx="1651.5" cy="233.5" r="15.75" fill="#fff" stroke="#c0c000" stroke-width="9.5"/>
<path d="M1588 326H1717" stroke="#0000c0" stroke-width="10" stroke-linecap="round" stroke-dasharray="52 10 33 22 40"/>
<path d="M1634.9 315.9H1669.9L1652.4 346.2Z" fill="#000" stroke="#0000c0" stroke-width="10" stroke-linejoin="round"/>
<path d="M1588 416.9H1717" stroke="#00c000" stroke-width="10" stroke-linecap="round" stroke-dasharray="48 22 0 22 0 22"/>
<path d="M1634.9 406.8H1669.9L1652.4 437.1Z" fill="#fff" stroke="#00c000" stroke-width="10" stroke-linejoin="round"/>
<path d="M1588 508H1717" stroke="#ff0000" stroke-width="10" stroke-linecap="round" stroke-dasharray="73.5 35.5"/>
<path d="M1636.3 492.9h30.3v30.3h-30.3Z" fill="#000" stroke="#ff0000" stroke-width="9.5" stroke-linejoin="round"/>
<g font-size="58" font-weight="bold">
<text x="1748.8" y="172.9">Pristine</text>
<text x="1748.8" y="247.2">0.010 TiO<tspan font-size="38" dy="16.5">2</tspan></text>
<text x="1748.8" y="337.9">0.025 TiO<tspan font-size="38" dy="16.5">2</tspan></text>
<text x="1748.8" y="430" xml:space="preserve">0.050  TiO<tspan font-size="38" dy="16.5">2</tspan></text>
<text x="1748.8" y="521.1">0.10 TiO<tspan font-size="38" dy="16.5">2</tspan></text>
</g>
</svg>
</body></html>
